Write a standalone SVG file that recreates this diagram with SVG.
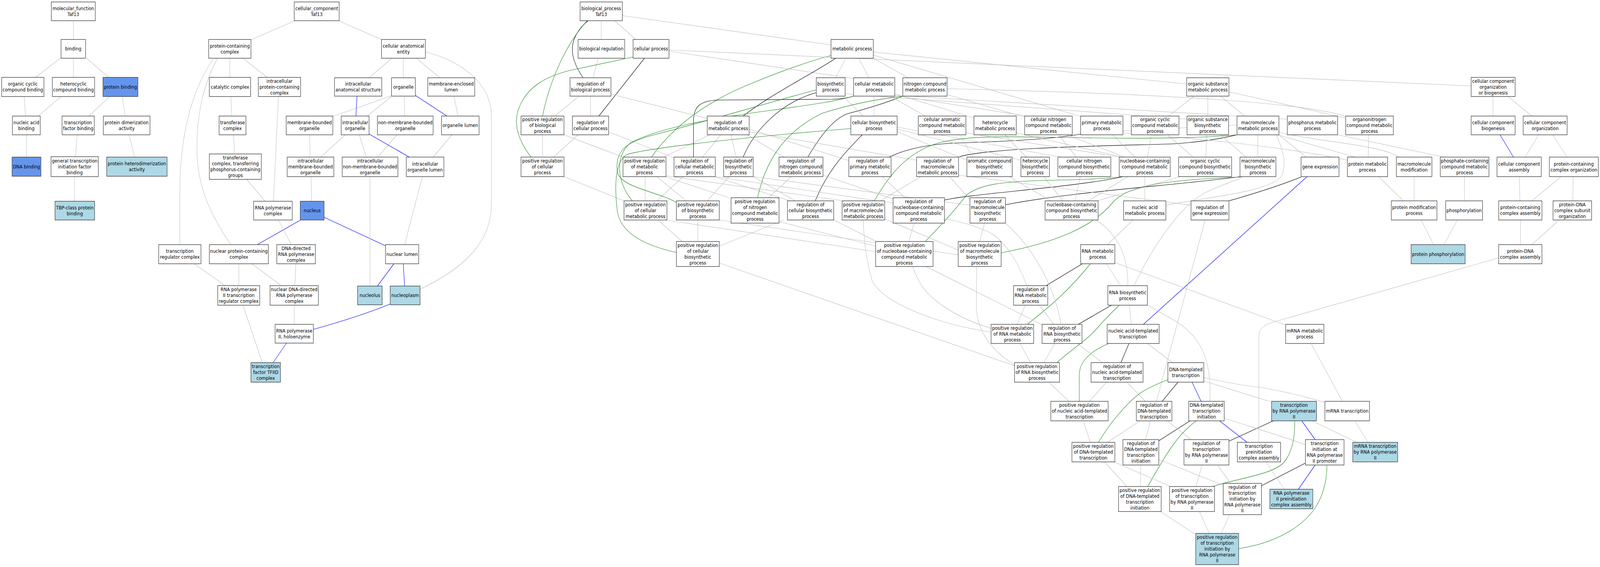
<svg xmlns="http://www.w3.org/2000/svg" width="4769" height="1451" viewBox="0 0 4769 1451" preserveAspectRatio="none">
<defs>
<style>
:root{width:100vw;height:100vh}
.nd rect{fill:#ffffff;stroke:#333333;stroke-width:1.3}
.lb rect{fill:#add8e6}
.cb rect{fill:#6495ed}
text{font-family:"DejaVu Sans","Liberation Sans",sans-serif;font-size:13px;text-anchor:middle;fill:#000000}
path{fill:none;stroke-width:1.2}
.g{stroke:#c0c0c0;marker-end:url(#mg)}
.b{stroke:#0000ff;marker-end:url(#mb)}
.k{stroke:#000000;marker-end:url(#mk)}
.n{stroke:#228b22;marker-end:url(#mn)}
</style>
<marker id="mg" viewBox="0 0 10 7" refX="10" refY="3.5" markerWidth="10" markerHeight="7" markerUnits="userSpaceOnUse" orient="auto"><path d="M0,0L10,3.5L0,7z" fill="#c0c0c0" stroke="none"/></marker>
<marker id="mb" viewBox="0 0 10 7" refX="10" refY="3.5" markerWidth="10" markerHeight="7" markerUnits="userSpaceOnUse" orient="auto"><path d="M0,0L10,3.5L0,7z" fill="#0000ff" stroke="none"/></marker>
<marker id="mk" viewBox="0 0 10 7" refX="10" refY="3.5" markerWidth="10" markerHeight="7" markerUnits="userSpaceOnUse" orient="auto"><path d="M0,0L10,3.5L0,7z" fill="#000000" stroke="none"/></marker>
<marker id="mn" viewBox="0 0 10 7" refX="10" refY="3.5" markerWidth="10" markerHeight="7" markerUnits="userSpaceOnUse" orient="auto"><path d="M0,0L10,3.5L0,7z" fill="#228b22" stroke="none"/></marker>
</defs>
<rect x="0" y="0" width="4769" height="1451" fill="#ffffff"/>
<g id="edges">
<path class="g" d="M219,101 L219,53"/>
<path class="g" d="M106,198 L180,149"/>
<path class="g" d="M219,198 L219,149"/>
<path class="g" d="M324,198 L258,149"/>
<path class="g" d="M76,297 L72,247"/>
<path class="g" d="M114,297 L182,247"/>
<path class="g" d="M265,297 L327,247"/>
<path class="g" d="M373,297 L364,247"/>
<path class="g" d="M79,402 L79,345"/>
<path class="g" d="M225,401 L230,345"/>
<path class="g" d="M401,402 L385,345"/>
<path class="g" d="M222,515 L222,452"/>
<path class="g" d="M750,101 L879,53"/>
<path class="g" d="M1137,101 L1011,54"/>
<path class="g" d="M685,198 L685,149"/>
<path class="g" d="M796,198 L724,149"/>
<path class="g" d="M691,297 L688,247"/>
<path class="g" d="M699,394 L696,345"/>
<path class="g" d="M790,515 L735,459"/>
<path class="g" d="M815,515 L830,247"/>
<path class="g" d="M536,626 L536,490 C536,330 580,220 636,150"/>
<path class="g" d="M688,626 C620,540 587,470 587,380 C587,280 610,210 648,150"/>
<path class="b" d="M767,626 L896,563"/>
<path class="g" d="M868,626 L830,563"/>
<path class="g" d="M671,731 L579,675"/>
<path class="g" d="M712,731 L712,675"/>
<path class="g" d="M838,731 L751,675"/>
<path class="g" d="M879,731 L882,675"/>
<path class="g" d="M877,830 L877,781"/>
<path class="b" d="M934,843 C1030,820 1100,800 1163,778"/>
<path class="g" d="M782,928 L724,781"/>
<path class="b" d="M814,928 L854,878"/>
<path class="g" d="M1100,199 L1168,149"/>
<path class="g" d="M1202,199 L1202,149"/>
<path class="g" d="M1311,199 L1241,149"/>
<path class="g" d="M992,298 L1167,245"/>
<path class="g" d="M1094,297 L1167,247"/>
<path class="b" d="M1061,297 L1064,246"/>
<path class="g" d="M1206,297 L1205,246"/>
<path class="g" d="M1365,297 L1353,246"/>
<path class="b" d="M1332,297 L1238,244"/>
<path class="g" d="M924,402 L923,345"/>
<path class="g" d="M956,402 L1029,345"/>
<path class="g" d="M1092,402 L1071,345"/>
<path class="g" d="M1126,402 L1183,345"/>
<path class="g" d="M1291,402 L1347,345"/>
<path class="b" d="M1220,402 L1100,343"/>
<path class="g" d="M929,515 L927,452"/>
<path class="g" d="M1206,626 L1259,452"/>
<path class="b" d="M1149,629 L966,556"/>
<path class="g" d="M1103,732 L1103,452"/>
<path class="b" d="M1125,732 L1174,675"/>
<path class="b" d="M1206,732 L1202,675"/>
<path class="g" d="M1252,740 C1400,680 1465,610 1465,520 L1465,300 C1465,200 1350,150 1268,133"/>
<path class="g" d="M1792,101 L1792,53"/>
<path class="g" d="M1895,101 L1832,53"/>
<path class="g" d="M2477,115 L1855,40"/>
<path class="g" d="M1768,199 L1783,149"/>
<path class="k" d="M1738,199 C1715,170 1700,140 1708,110 C1715,85 1735,65 1753,53"/>
<path class="g" d="M1653,297 L1726,246"/>
<path class="n" d="M1617,297 C1640,200 1690,110 1750,53"/>
<path class="g" d="M1760,297 L1760,246"/>
<path class="k" d="M1785,297 L1921,149"/>
<path class="g" d="M1617,402 L1617,345"/>
<path class="g" d="M1650,402 L1723,345"/>
<path class="n" d="M1583,402 C1545,360 1530,320 1545,280 C1570,220 1630,195 1700,180 C1780,165 1840,155 1887,146"/>
<path class="g" d="M1857,402 L1681,345"/>
<path class="g" d="M1979,402 L2115,345"/>
<path class="n" d="M1942,402 C2000,330 2100,260 2250,210 C2350,175 2420,155 2477,142"/>
<path class="g" d="M2009,404 L1814,337"/>
<path class="g" d="M2094,402 L2148,345"/>
<path class="k" d="M2067,402 L2067,310 C2067,270 2090,258 2140,256 L2480,254 C2510,253 2530,250 2544,246"/>
<path class="g" d="M2544,201 L1994,131"/>
<path class="g" d="M2590,199 L2560,149"/>
<path class="g" d="M2491,199 L2521,149"/>
<path class="g" d="M2706,199 L2603,149"/>
<path class="g" d="M3537,215 L2603,133"/>
<path class="g" d="M3221,298 L2603,141"/>
<path class="g" d="M3837,305 L2667,244"/>
<path class="g" d="M4385,220 L1994,128"/>
<path class="g" d="M2108,303 L1821,241"/>
<path class="k" d="M2215,297 C2300,240 2420,190 2491,149"/>
<path class="g" d="M1860,514 L1681,452"/>
<path class="g" d="M1923,514 L1923,452"/>
<path class="g" d="M1958,514 L2036,452"/>
<path class="n" d="M1885,514 C1840,470 1830,400 1880,365 C1960,330 2100,305 2300,282 C2420,268 2500,258 2544,246"/>
<path class="g" d="M2194,402 L2179,345"/>
<path class="k" d="M2215,402 C2250,330 2330,262 2433,237"/>
<path class="g" d="M2336,402 L2227,345"/>
<path class="k" d="M2408,402 C2450,340 2490,300 2530,290 C2600,275 2650,260 2691,246"/>
<path class="g" d="M2530,411 L2233,330"/>
<path class="k" d="M2651,402 C2700,380 2780,368 2850,366 C3000,362 3150,355 3221,343"/>
<path class="g" d="M2732,410 L2233,337"/>
<path class="k" d="M2857,402 C2950,375 3400,372 3500,368 C3600,362 3650,352 3687,345"/>
<path class="g" d="M2605,297 L2605,246"/>
<path class="g" d="M2573,297 L2512,246"/>
<path class="g" d="M2758,297 L2654,246"/>
<path class="g" d="M2903,302 L2667,240"/>
<path class="g" d="M3054,300 L2823,242"/>
<path class="g" d="M3060,297 L2667,244"/>
<path class="g" d="M3483,297 L3559,246"/>
<path class="g" d="M3600,297 L3600,246"/>
<path class="g" d="M3538,305 L2519,240"/>
<path class="g" d="M3710,297 L3638,246"/>
<path class="g" d="M3687,320 L3347,335"/>
<path class="g" d="M4011,298 C3900,265 3500,240 2823,227"/>
<path class="g" d="M4011,302 L3663,235"/>
<path class="g" d="M4450,297 L4450,247"/>
<path class="g" d="M4566,297 L4495,247"/>
<path class="g" d="M2900,402 L2860,345"/>
<path class="g" d="M2882,410 L2674,337"/>
<path class="g" d="M3059,402 L2995,345"/>
<path class="g" d="M3043,410 L2674,330"/>
<path class="g" d="M3208,402 L3156,345"/>
<path class="g" d="M3160,402 L2674,325"/>
<path class="g" d="M3340,402 L2879,340"/>
<path class="g" d="M3345,402 L3029,340"/>
<path class="g" d="M3352,402 L3180,345"/>
<path class="g" d="M3420,402 L3432,345"/>
<path class="g" d="M3383,402 L3317,345"/>
<path class="g" d="M3556,402 L3480,345"/>
<path class="g" d="M3594,402 L3597,345"/>
<path class="g" d="M3749,402 L3749,345"/>
<path class="g" d="M3714,402 L3638,345"/>
<path class="g" d="M3893,402 L3812,345"/>
<path class="g" d="M4038,402 L3808,345"/>
<path class="g" d="M4078,402 L4080,345"/>
<path class="g" d="M4016,410 C3800,370 3500,350 3347,340"/>
<path class="g" d="M4169,402 C4120,370 3900,360 3812,338"/>
<path class="g" d="M4304,402 L3987,345"/>
<path class="b" d="M4511,402 L4471,345"/>
<path class="g" d="M4546,402 L4586,345"/>
<path class="g" d="M4671,402 L4628,345"/>
<path class="g" d="M2355,514 L2130,452"/>
<path class="g" d="M2370,514 L2245,452"/>
<path class="k" d="M2430,514 C2470,430 2530,380 2570,345"/>
<path class="g" d="M2045,514 L1958,452"/>
<path class="g" d="M2108,514 L2173,452"/>
<path class="n" d="M2016,518 C1960,490 1850,480 1840,440 C1830,380 1880,360 1950,345 C2150,300 2300,260 2433,230"/>
<path class="g" d="M2173,506 L1982,452"/>
<path class="g" d="M2291,506 L2358,452"/>
<path class="n" d="M2258,506 C2280,420 2330,340 2450,290 C2560,260 2640,252 2691,246"/>
<path class="g" d="M2515,514 L1985,450"/>
<path class="g" d="M2624,514 L2745,452"/>
<path class="n" d="M2606,514 C2650,450 2700,390 2800,365 C2900,345 3000,350 3200,352 C3450,356 3600,352 3687,345"/>
<path class="g" d="M2662,520 L2132,452"/>
<path class="g" d="M2664,510 L2453,448"/>
<path class="g" d="M2697,506 L2630,452"/>
<path class="k" d="M2815,512 C2900,495 3200,480 3348,452"/>
<path class="g" d="M2891,510 L2830,452"/>
<path class="g" d="M2891,525 L2245,452"/>
<path class="k" d="M2997,524 C3200,490 3500,475 3698,452"/>
<path class="g" d="M3244,514 L3362,452"/>
<path class="g" d="M3168,514 L3111,452"/>
<path class="g" d="M3132,514 L3008,452"/>
<path class="g" d="M3204,514 L3220,452"/>
<path class="g" d="M3271,514 L3517,452"/>
<path class="g" d="M3412,514 L3412,452"/>
<path class="g" d="M3475,525 C3600,505 3790,490 3820,450 C3840,410 3815,370 3805,345"/>
<path class="g" d="M3550,525 L2857,448"/>
<path class="k" d="M3663,514 C3720,500 3800,480 3878,453"/>
<path class="g" d="M4183,514 L4109,452"/>
<path class="g" d="M4215,514 L4215,452"/>
<path class="g" d="M4365,514 L4365,452"/>
<path class="g" d="M4530,514 L4529,452"/>
<path class="g" d="M4566,514 L4653,452"/>
<path class="g" d="M4688,514 L4689,452"/>
<path class="g" d="M2033,618 L1961,563"/>
<path class="g" d="M2080,618 L2080,563"/>
<path class="g" d="M2144,630 L2336,563"/>
<path class="n" d="M2016,646 C1930,630 1850,600 1840,540 C1830,470 1835,410 1870,395 C1950,375 2300,345 2536,329"/>
<path class="g" d="M2709,618 L2724,571"/>
<path class="g" d="M2610,644 L1985,563"/>
<path class="g" d="M2610,630 L2322,567"/>
<path class="n" d="M2758,618 C2800,580 2840,545 2880,500 C2920,470 3000,465 3100,462 C3200,460 3300,458 3347,452"/>
<path class="g" d="M2920,618 L2935,571"/>
<path class="g" d="M2856,640 L2637,560"/>
<path class="g" d="M2856,652 L2144,563"/>
<path class="n" d="M2984,647 C3150,620 3260,580 3320,515 C3370,470 3500,460 3698,453"/>
<path class="g" d="M3301,626 L3377,563"/>
<path class="g" d="M4273,626 L4236,563"/>
<path class="g" d="M4304,626 L4344,563"/>
<path class="g" d="M4532,626 L4532,563"/>
<path class="g" d="M4566,626 L4647,563"/>
<path class="g" d="M3060,731 C3040,680 3000,620 2950,595 C2900,575 2850,565 2815,560"/>
<path class="k" d="M3118,731 L3226,675"/>
<path class="g" d="M3340,731 L3298,675"/>
<path class="g" d="M3362,731 C3362,650 3330,600 3268,563"/>
<path class="g" d="M3380,731 C3430,640 3520,520 3600,490 C3650,470 3690,460 3705,452"/>
<path class="g" d="M3032,830 L3056,781"/>
<path class="g" d="M2954,850 C2800,830 2640,780 2600,720 C2580,660 2575,610 2573,563"/>
<path class="g" d="M2954,840 C2850,815 2760,760 2740,720 C2730,705 2725,695 2720,682"/>
<path class="n" d="M3062,830 C3120,790 3180,750 3250,675"/>
<path class="g" d="M3141,830 L3098,781"/>
<path class="g" d="M3162,830 C3150,760 3100,650 2997,571"/>
<path class="g" d="M3108,832 L2485,563"/>
<path class="k" d="M3214,830 L3313,781"/>
<path class="g" d="M3372,830 L3366,781"/>
<path class="b" d="M3408,830 L3896,452"/>
<path class="g" d="M3832,832 L3323,672"/>
<path class="g" d="M3071,928 L3041,879"/>
<path class="g" d="M3111,928 L3144,879"/>
<path class="g" d="M3026,935 C2960,900 2910,850 2910,780 L2911,682"/>
<path class="g" d="M3024,936 L2144,673"/>
<path class="n" d="M3150,928 C3200,890 3240,870 3270,840 C3300,810 3320,795 3336,781"/>
<path class="g" d="M3286,928 L3211,879"/>
<path class="k" d="M3341,928 L3365,879"/>
<path class="g" d="M3495,928 L3420,879"/>
<path class="g" d="M3186,1027 L3126,978"/>
<path class="g" d="M3247,1027 L3298,978"/>
<path class="n" d="M3217,1027 L3217,960 C3217,920 3260,895 3305,879"/>
<path class="g" d="M3414,1027 L3359,978"/>
<path class="k" d="M3464,1027 L3511,978"/>
<path class="g" d="M3447,1027 L3592,563"/>
<path class="b" d="M3580,1027 L3553,978"/>
<path class="g" d="M3606,1027 C3610,950 3600,870 3500,820 C3460,800 3440,790 3420,781"/>
<path class="g" d="M3783,1027 L3588,975"/>
<path class="g" d="M3949,1030 C3880,1012 3800,995 3700,985 C3650,978 3610,970 3588,966"/>
<path class="g" d="M4001,1027 L3908,879"/>
<path class="g" d="M3301,1132 L3398,1077"/>
<path class="g" d="M3250,1132 L3229,1077"/>
<path class="n" d="M3274,1132 C3310,1080 3360,1030 3400,1005 C3430,990 3460,978 3481,972"/>
<path class="g" d="M3414,1125 L3429,1077"/>
<path class="k" d="M3454,1128 L3547,1077"/>
<path class="g" d="M3550,1125 L3480,1077"/>
<path class="k" d="M3663,1129 L3795,1077"/>
<path class="b" d="M3717,1132 L3635,1077"/>
<path class="g" d="M3752,1132 L3752,860 C3752,840 3770,830 3800,823 L4467,660"/>
<path class="b" d="M3920,1125 L3880,1077"/>
<path class="g" d="M3891,1138 C3800,1110 3700,1085 3649,1070"/>
<path class="g" d="M4078,1132 L4038,1077"/>
<path class="g" d="M4044,1132 L3911,1077"/>
<path class="g" d="M3359,1245 L3292,1182"/>
<path class="g" d="M3399,1245 L3400,1190"/>
<path class="n" d="M3421,1245 C3470,1170 3510,1110 3566,1077"/>
<path class="g" d="M3489,1245 L3320,1182"/>
<path class="g" d="M3565,1245 L3583,1190"/>
<path class="n" d="M3615,1245 C3680,1225 3800,1215 3830,1180 C3855,1150 3860,1110 3859,1077"/>
<path class="g" d="M3646,1242 L3454,1176"/>
<path class="g" d="M3668,1237 L3629,1190"/>
<path class="k" d="M3760,1243 L3891,1185"/>
<path class="b" d="M3870,1252 L3920,1190"/>
<path class="g" d="M3828,1252 L3774,1182"/>
<path class="g" d="M3562,1367 L3459,1309"/>
<path class="g" d="M3604,1365 L3575,1309"/>
<path class="g" d="M3640,1365 L3665,1317"/>
<path class="n" d="M3692,1404 C3800,1390 3880,1350 3920,1300 C3950,1260 3955,1220 3955,1190"/>
</g>
<g id="nodes">
<g id="mf" class="nd"><rect x="153" y="5" width="131" height="48"/><text x="218.5" y="26"><tspan x="218.5">molecular_function</tspan><tspan x="218.5" dy="15">Taf13</tspan></text></g>
<g id="binding" class="nd"><rect x="182" y="101" width="73" height="48"/><text x="218.5" y="129.5">binding</text></g>
<g id="ocb" class="nd"><rect x="5" y="198" width="126" height="49"/><text x="68" y="219.5"><tspan x="68">organic cyclic</tspan><tspan x="68" dy="15">compound binding</tspan></text></g>
<g id="hcb" class="nd"><rect x="156" y="198" width="126" height="49"/><text x="219" y="219.5"><tspan x="219">heterocyclic</tspan><tspan x="219" dy="15">compound binding</tspan></text></g>
<g id="pb" class="nd cb"><rect x="307" y="198" width="104" height="49"/><text x="359" y="227">protein binding</text></g>
<g id="nab" class="nd"><rect x="37" y="297" width="83" height="48"/><text x="78.5" y="318"><tspan x="78.5">nucleic acid</tspan><tspan x="78.5" dy="15">binding</tspan></text></g>
<g id="tfb" class="nd"><rect x="185" y="297" width="96" height="48"/><text x="233" y="318"><tspan x="233">transcription</tspan><tspan x="233" dy="15">factor binding</tspan></text></g>
<g id="pda" class="nd"><rect x="308" y="297" width="139" height="48"/><text x="377.5" y="318"><tspan x="377.5">protein dimerization</tspan><tspan x="377.5" dy="15">activity</tspan></text></g>
<g id="dnab" class="nd cb"><rect x="36" y="402" width="86" height="49"/><text x="79" y="431">DNA binding</text></g>
<g id="gtifb" class="nd"><rect x="152" y="401" width="141" height="51"/><text x="222.5" y="416"><tspan x="222.5">general transcription</tspan><tspan x="222.5" dy="15">initiation factor</tspan><tspan x="222.5" dy="15">binding</tspan></text></g>
<g id="pha" class="nd lb"><rect x="318" y="402" width="180" height="49"/><text x="408" y="423.5"><tspan x="408">protein heterodimerization</tspan><tspan x="408" dy="15">activity</tspan></text></g>
<g id="tbp" class="nd lb"><rect x="164" y="515" width="118" height="48"/><text x="223" y="536"><tspan x="223">TBP-class protein</tspan><tspan x="223" dy="15">binding</tspan></text></g>
<g id="cc" class="nd"><rect x="877" y="5" width="134" height="48"/><text x="944" y="26"><tspan x="944">cellular_component</tspan><tspan x="944" dy="15">Taf13</tspan></text></g>
<g id="pcc" class="nd"><rect x="622" y="101" width="126" height="48"/><text x="685" y="122"><tspan x="685">protein-containing</tspan><tspan x="685" dy="15">complex</tspan></text></g>
<g id="cae" class="nd"><rect x="1137" y="101" width="131" height="48"/><text x="1202.5" y="122"><tspan x="1202.5">cellular anatomical</tspan><tspan x="1202.5" dy="15">entity</tspan></text></g>
<g id="catc" class="nd"><rect x="624" y="198" width="123" height="49"/><text x="685.5" y="227">catalytic complex</text></g>
<g id="ipcc" class="nd"><rect x="770" y="198" width="126" height="49"/><text x="833" y="212"><tspan x="833">intracellular</tspan><tspan x="833" dy="15">protein-containing</tspan><tspan x="833" dy="15">complex</tspan></text></g>
<g id="ias" class="nd"><rect x="997" y="199" width="141" height="47"/><text x="1067.5" y="219.5"><tspan x="1067.5">intracellular</tspan><tspan x="1067.5" dy="15">anatomical structure</tspan></text></g>
<g id="org" class="nd"><rect x="1167" y="199" width="71" height="47"/><text x="1202.5" y="227">organelle</text></g>
<g id="mel" class="nd"><rect x="1275" y="199" width="140" height="47"/><text x="1345" y="219.5"><tspan x="1345">membrane-enclosed</tspan><tspan x="1345" dy="15">lumen</tspan></text></g>
<g id="tc" class="nd"><rect x="653" y="297" width="80" height="48"/><text x="693" y="318"><tspan x="693">transferase</tspan><tspan x="693" dy="15">complex</tspan></text></g>
<g id="mbo" class="nd"><rect x="853" y="297" width="139" height="48"/><text x="922.5" y="318"><tspan x="922.5">membrane-bounded</tspan><tspan x="922.5" dy="15">organelle</tspan></text></g>
<g id="io" class="nd"><rect x="1017" y="297" width="83" height="48"/><text x="1058.5" y="318"><tspan x="1058.5">intracellular</tspan><tspan x="1058.5" dy="15">organelle</tspan></text></g>
<g id="nmbo" class="nd"><rect x="1125" y="297" width="166" height="48"/><text x="1208" y="318"><tspan x="1208">non-membrane-bounded</tspan><tspan x="1208" dy="15">organelle</tspan></text></g>
<g id="ol" class="nd"><rect x="1316" y="297" width="112" height="48"/><text x="1372" y="325.5">organelle lumen</text></g>
<g id="tctp" class="nd"><rect x="624" y="394" width="155" height="65"/><text x="701.5" y="408.5"><tspan x="701.5">transferase</tspan><tspan x="701.5" dy="15">complex, transferring</tspan><tspan x="701.5" dy="15">phosphorus-containing</tspan><tspan x="701.5" dy="15">groups</tspan></text></g>
<g id="imbo" class="nd"><rect x="856" y="402" width="139" height="50"/><text x="925.5" y="416.5"><tspan x="925.5">intracellular</tspan><tspan x="925.5" dy="15">membrane-bounded</tspan><tspan x="925.5" dy="15">organelle</tspan></text></g>
<g id="inmbo" class="nd"><rect x="1020" y="402" width="166" height="50"/><text x="1103" y="416.5"><tspan x="1103">intracellular</tspan><tspan x="1103" dy="15">non-membrane-bounded</tspan><tspan x="1103" dy="15">organelle</tspan></text></g>
<g id="iol" class="nd"><rect x="1211" y="402" width="112" height="50"/><text x="1267" y="424"><tspan x="1267">intracellular</tspan><tspan x="1267" dy="15">organelle lumen</tspan></text></g>
<g id="rpc" class="nd"><rect x="756" y="515" width="115" height="48"/><text x="813.5" y="536"><tspan x="813.5">RNA polymerase</tspan><tspan x="813.5" dy="15">complex</tspan></text></g>
<g id="nucleus" class="nd cb"><rect x="895" y="515" width="71" height="48"/><text x="930.5" y="543.5">nucleus</text></g>
<g id="trc" class="nd"><rect x="473" y="626" width="126" height="49"/><text x="536" y="647.5"><tspan x="536">transcription</tspan><tspan x="536" dy="15">regulator complex</tspan></text></g>
<g id="npcc" class="nd"><rect x="624" y="626" width="176" height="49"/><text x="712" y="647.5"><tspan x="712">nuclear protein-containing</tspan><tspan x="712" dy="15">complex</tspan></text></g>
<g id="ddrpc" class="nd"><rect x="825" y="626" width="115" height="49"/><text x="882.5" y="640"><tspan x="882.5">DNA-directed</tspan><tspan x="882.5" dy="15">RNA polymerase</tspan><tspan x="882.5" dy="15">complex</tspan></text></g>
<g id="nl" class="nd"><rect x="1149" y="626" width="99" height="49"/><text x="1198.5" y="655">nuclear lumen</text></g>
<g id="rp2trc" class="nd"><rect x="649" y="731" width="125" height="50"/><text x="711.5" y="745.5"><tspan x="711.5">RNA polymerase</tspan><tspan x="711.5" dy="15">II transcription</tspan><tspan x="711.5" dy="15">regulator complex</tspan></text></g>
<g id="nddrpc" class="nd"><rect x="805" y="731" width="144" height="50"/><text x="877" y="745.5"><tspan x="877">nuclear DNA-directed</tspan><tspan x="877" dy="15">RNA polymerase</tspan><tspan x="877" dy="15">complex</tspan></text></g>
<g id="nucleolus" class="nd lb"><rect x="1066" y="732" width="73" height="48"/><text x="1102.5" y="760.5">nucleolus</text></g>
<g id="nucleoplasm" class="nd lb"><rect x="1163" y="732" width="89" height="48"/><text x="1207.5" y="760.5">nucleoplasm</text></g>
<g id="holo" class="nd"><rect x="820" y="830" width="114" height="48"/><text x="877" y="851"><tspan x="877">RNA polymerase</tspan><tspan x="877" dy="15">II, holoenzyme</tspan></text></g>
<g id="tfiid" class="nd lb"><rect x="748" y="928" width="88" height="50"/><text x="792" y="942.5"><tspan x="792">transcription</tspan><tspan x="792" dy="15">factor TFIID</tspan><tspan x="792" dy="15">complex</tspan></text></g>
<g id="bp" class="nd"><rect x="1729" y="5" width="126" height="48"/><text x="1792" y="26"><tspan x="1792">biological_process</tspan><tspan x="1792" dy="15">Taf13</tspan></text></g>
<g id="breg" class="nd"><rect x="1723" y="101" width="139" height="48"/><text x="1792.5" y="129.5">biological regulation</text></g>
<g id="cp" class="nd"><rect x="1887" y="101" width="107" height="48"/><text x="1940.5" y="129.5">cellular process</text></g>
<g id="mp" class="nd"><rect x="2477" y="101" width="126" height="48"/><text x="2540" y="129.5">metabolic process</text></g>
<g id="rbp" class="nd"><rect x="1699" y="199" width="122" height="47"/><text x="1760" y="219.5"><tspan x="1760">regulation of</tspan><tspan x="1760" dy="15">biological process</tspan></text></g>
<g id="bsp" class="nd"><rect x="2433" y="199" width="86" height="47"/><text x="2476" y="219.5"><tspan x="2476">biosynthetic</tspan><tspan x="2476" dy="15">process</tspan></text></g>
<g id="cmp" class="nd"><rect x="2544" y="199" width="123" height="47"/><text x="2605.5" y="219.5"><tspan x="2605.5">cellular metabolic</tspan><tspan x="2605.5" dy="15">process</tspan></text></g>
<g id="ncmp" class="nd"><rect x="2691" y="199" width="132" height="47"/><text x="2757" y="219.5"><tspan x="2757">nitrogen compound</tspan><tspan x="2757" dy="15">metabolic process</tspan></text></g>
<g id="osmp" class="nd"><rect x="3537" y="199" width="126" height="47"/><text x="3600" y="219.5"><tspan x="3600">organic substance</tspan><tspan x="3600" dy="15">metabolic process</tspan></text></g>
<g id="ccob" class="nd"><rect x="4385" y="198" width="131" height="49"/><text x="4450.5" y="212"><tspan x="4450.5">cellular component</tspan><tspan x="4450.5" dy="15">organization</tspan><tspan x="4450.5" dy="15">or biogenesis</tspan></text></g>
<g id="prbp" class="nd"><rect x="1553" y="297" width="128" height="48"/><text x="1617" y="310.5"><tspan x="1617">positive regulation</tspan><tspan x="1617" dy="15">of biological</tspan><tspan x="1617" dy="15">process</tspan></text></g>
<g id="rcp" class="nd"><rect x="1706" y="297" width="108" height="48"/><text x="1760" y="318"><tspan x="1760">regulation of</tspan><tspan x="1760" dy="15">cellular process</tspan></text></g>
<g id="rmp" class="nd"><rect x="2108" y="297" width="125" height="48"/><text x="2170.5" y="318"><tspan x="2170.5">regulation of</tspan><tspan x="2170.5" dy="15">metabolic process</tspan></text></g>
<g id="cbp" class="nd"><rect x="2536" y="297" width="138" height="48"/><text x="2605" y="318"><tspan x="2605">cellular biosynthetic</tspan><tspan x="2605" dy="15">process</tspan></text></g>
<g id="cacmp" class="nd"><rect x="2737" y="297" width="142" height="48"/><text x="2808" y="310.5"><tspan x="2808">cellular aromatic</tspan><tspan x="2808" dy="15">compound metabolic</tspan><tspan x="2808" dy="15">process</tspan></text></g>
<g id="hmp" class="nd"><rect x="2903" y="297" width="126" height="48"/><text x="2966" y="318"><tspan x="2966">heterocycle</tspan><tspan x="2966" dy="15">metabolic process</tspan></text></g>
<g id="cncmp" class="nd"><rect x="3054" y="297" width="142" height="48"/><text x="3125" y="310.5"><tspan x="3125">cellular nitrogen</tspan><tspan x="3125" dy="15">compound metabolic</tspan><tspan x="3125" dy="15">process</tspan></text></g>
<g id="pmp" class="nd"><rect x="3221" y="297" width="126" height="48"/><text x="3284" y="318"><tspan x="3284">primary metabolic</tspan><tspan x="3284" dy="15">process</tspan></text></g>
<g id="occmp" class="nd"><rect x="3372" y="297" width="142" height="48"/><text x="3443" y="310.5"><tspan x="3443">organic cyclic</tspan><tspan x="3443" dy="15">compound metabolic</tspan><tspan x="3443" dy="15">process</tspan></text></g>
<g id="osbp" class="nd"><rect x="3538" y="297" width="124" height="48"/><text x="3600" y="310.5"><tspan x="3600">organic substance</tspan><tspan x="3600" dy="15">biosynthetic</tspan><tspan x="3600" dy="15">process</tspan></text></g>
<g id="mmp" class="nd"><rect x="3687" y="297" width="125" height="48"/><text x="3749.5" y="318"><tspan x="3749.5">macromolecule</tspan><tspan x="3749.5" dy="15">metabolic process</tspan></text></g>
<g id="phmp" class="nd"><rect x="3837" y="297" width="150" height="48"/><text x="3912" y="318"><tspan x="3912">phosphorus metabolic</tspan><tspan x="3912" dy="15">process</tspan></text></g>
<g id="oncmp" class="nd"><rect x="4011" y="297" width="142" height="48"/><text x="4082" y="310.5"><tspan x="4082">organonitrogen</tspan><tspan x="4082" dy="15">compound metabolic</tspan><tspan x="4082" dy="15">process</tspan></text></g>
<g id="ccbg" class="nd"><rect x="4385" y="297" width="131" height="48"/><text x="4450.5" y="318"><tspan x="4450.5">cellular component</tspan><tspan x="4450.5" dy="15">biogenesis</tspan></text></g>
<g id="cco" class="nd"><rect x="4540" y="297" width="131" height="48"/><text x="4605.5" y="318"><tspan x="4605.5">cellular component</tspan><tspan x="4605.5" dy="15">organization</tspan></text></g>
<g id="prcp" class="nd"><rect x="1553" y="402" width="128" height="50"/><text x="1617" y="416.5"><tspan x="1617">positive regulation</tspan><tspan x="1617" dy="15">of cellular</tspan><tspan x="1617" dy="15">process</tspan></text></g>
<g id="prmp" class="nd"><rect x="1857" y="402" width="128" height="50"/><text x="1921" y="416.5"><tspan x="1921">positive regulation</tspan><tspan x="1921" dy="15">of metabolic</tspan><tspan x="1921" dy="15">process</tspan></text></g>
<g id="rcmp" class="nd"><rect x="2009" y="402" width="123" height="50"/><text x="2070.5" y="416.5"><tspan x="2070.5">regulation of</tspan><tspan x="2070.5" dy="15">cellular metabolic</tspan><tspan x="2070.5" dy="15">process</tspan></text></g>
<g id="rbsp" class="nd"><rect x="2157" y="402" width="88" height="50"/><text x="2201" y="416.5"><tspan x="2201">regulation of</tspan><tspan x="2201" dy="15">biosynthetic</tspan><tspan x="2201" dy="15">process</tspan></text></g>
<g id="rncmp" class="nd"><rect x="2322" y="402" width="131" height="50"/><text x="2387.5" y="416.5"><tspan x="2387.5">regulation of</tspan><tspan x="2387.5" dy="15">nitrogen compound</tspan><tspan x="2387.5" dy="15">metabolic process</tspan></text></g>
<g id="rpmp" class="nd"><rect x="2530" y="402" width="126" height="50"/><text x="2593" y="416.5"><tspan x="2593">regulation of</tspan><tspan x="2593" dy="15">primary metabolic</tspan><tspan x="2593" dy="15">process</tspan></text></g>
<g id="rmmp" class="nd"><rect x="2732" y="402" width="125" height="50"/><text x="2794.5" y="416.5"><tspan x="2794.5">regulation of</tspan><tspan x="2794.5" dy="15">macromolecule</tspan><tspan x="2794.5" dy="15">metabolic process</tspan></text></g>
<g id="acbp" class="nd"><rect x="2882" y="402" width="135" height="50"/><text x="2949.5" y="416.5"><tspan x="2949.5">aromatic compound</tspan><tspan x="2949.5" dy="15">biosynthetic</tspan><tspan x="2949.5" dy="15">process</tspan></text></g>
<g id="hbp" class="nd"><rect x="3043" y="402" width="85" height="50"/><text x="3085.5" y="416.5"><tspan x="3085.5">heterocycle</tspan><tspan x="3085.5" dy="15">biosynthetic</tspan><tspan x="3085.5" dy="15">process</tspan></text></g>
<g id="cncbp" class="nd"><rect x="3153" y="402" width="158" height="50"/><text x="3232" y="416.5"><tspan x="3232">cellular nitrogen</tspan><tspan x="3232" dy="15">compound biosynthetic</tspan><tspan x="3232" dy="15">process</tspan></text></g>
<g id="nccmp" class="nd"><rect x="3336" y="402" width="152" height="50"/><text x="3412" y="416.5"><tspan x="3412">nucleobase-containing</tspan><tspan x="3412" dy="15">compound metabolic</tspan><tspan x="3412" dy="15">process</tspan></text></g>
<g id="occbp" class="nd"><rect x="3513" y="402" width="158" height="50"/><text x="3592" y="416.5"><tspan x="3592">organic cyclic</tspan><tspan x="3592" dy="15">compound biosynthetic</tspan><tspan x="3592" dy="15">process</tspan></text></g>
<g id="mbp" class="nd"><rect x="3696" y="402" width="107" height="50"/><text x="3749.5" y="416.5"><tspan x="3749.5">macromolecule</tspan><tspan x="3749.5" dy="15">biosynthetic</tspan><tspan x="3749.5" dy="15">process</tspan></text></g>
<g id="ge" class="nd"><rect x="3878" y="402" width="113" height="50"/><text x="3934.5" y="431.5">gene expression</text></g>
<g id="ptmp" class="nd"><rect x="4016" y="402" width="120" height="50"/><text x="4076" y="424"><tspan x="4076">protein metabolic</tspan><tspan x="4076" dy="15">process</tspan></text></g>
<g id="mm" class="nd"><rect x="4162" y="402" width="106" height="50"/><text x="4215" y="424"><tspan x="4215">macromolecule</tspan><tspan x="4215" dy="15">modification</tspan></text></g>
<g id="pccmp" class="nd"><rect x="4293" y="402" width="145" height="50"/><text x="4365.5" y="416.5"><tspan x="4365.5">phosphate-containing</tspan><tspan x="4365.5" dy="15">compound metabolic</tspan><tspan x="4365.5" dy="15">process</tspan></text></g>
<g id="cca" class="nd"><rect x="4462" y="402" width="132" height="50"/><text x="4528" y="424"><tspan x="4528">cellular component</tspan><tspan x="4528" dy="15">assembly</tspan></text></g>
<g id="pcco" class="nd"><rect x="4618" y="402" width="146" height="50"/><text x="4691" y="424"><tspan x="4691">protein-containing</tspan><tspan x="4691" dy="15">complex organization</tspan></text></g>
<g id="prcmp" class="nd"><rect x="1860" y="514" width="128" height="49"/><text x="1924" y="528"><tspan x="1924">positive regulation</tspan><tspan x="1924" dy="15">of cellular</tspan><tspan x="1924" dy="15">metabolic process</tspan></text></g>
<g id="prbsp" class="nd"><rect x="2016" y="514" width="128" height="49"/><text x="2080" y="528"><tspan x="2080">positive regulation</tspan><tspan x="2080" dy="15">of biosynthetic</tspan><tspan x="2080" dy="15">process</tspan></text></g>
<g id="prncmp" class="nd"><rect x="2179" y="506" width="143" height="65"/><text x="2250.5" y="520.5"><tspan x="2250.5">positive regulation</tspan><tspan x="2250.5" dy="15">of nitrogen</tspan><tspan x="2250.5" dy="15">compound metabolic</tspan><tspan x="2250.5" dy="15">process</tspan></text></g>
<g id="rcbp" class="nd"><rect x="2347" y="514" width="138" height="49"/><text x="2416" y="528"><tspan x="2416">regulation of</tspan><tspan x="2416" dy="15">cellular biosynthetic</tspan><tspan x="2416" dy="15">process</tspan></text></g>
<g id="prmmp" class="nd"><rect x="2510" y="514" width="127" height="49"/><text x="2573.5" y="528"><tspan x="2573.5">positive regulation</tspan><tspan x="2573.5" dy="15">of macromolecule</tspan><tspan x="2573.5" dy="15">metabolic process</tspan></text></g>
<g id="rnccmp" class="nd"><rect x="2662" y="506" width="153" height="65"/><text x="2738.5" y="520.5"><tspan x="2738.5">regulation of</tspan><tspan x="2738.5" dy="15">nucleobase-containing</tspan><tspan x="2738.5" dy="15">compound metabolic</tspan><tspan x="2738.5" dy="15">process</tspan></text></g>
<g id="rmbp" class="nd"><rect x="2891" y="506" width="106" height="65"/><text x="2944" y="520.5"><tspan x="2944">regulation of</tspan><tspan x="2944" dy="15">macromolecule</tspan><tspan x="2944" dy="15">biosynthetic</tspan><tspan x="2944" dy="15">process</tspan></text></g>
<g id="nccbp" class="nd"><rect x="3115" y="514" width="158" height="49"/><text x="3194" y="528"><tspan x="3194">nucleobase-containing</tspan><tspan x="3194" dy="15">compound biosynthetic</tspan><tspan x="3194" dy="15">process</tspan></text></g>
<g id="namp" class="nd"><rect x="3349" y="514" width="126" height="49"/><text x="3412" y="535.5"><tspan x="3412">nucleic acid</tspan><tspan x="3412" dy="15">metabolic process</tspan></text></g>
<g id="rge" class="nd"><rect x="3550" y="514" width="113" height="49"/><text x="3606.5" y="535.5"><tspan x="3606.5">regulation of</tspan><tspan x="3606.5" dy="15">gene expression</tspan></text></g>
<g id="pmod" class="nd"><rect x="4147" y="514" width="136" height="49"/><text x="4215" y="535.5"><tspan x="4215">protein modification</tspan><tspan x="4215" dy="15">process</tspan></text></g>
<g id="phos" class="nd"><rect x="4309" y="514" width="110" height="49"/><text x="4364" y="543">phosphorylation</text></g>
<g id="pcca" class="nd"><rect x="4467" y="514" width="129" height="49"/><text x="4531.5" y="535.5"><tspan x="4531.5">protein-containing</tspan><tspan x="4531.5" dy="15">complex assembly</tspan></text></g>
<g id="pdcso" class="nd"><rect x="4629" y="514" width="115" height="49"/><text x="4686.5" y="528"><tspan x="4686.5">protein-DNA</tspan><tspan x="4686.5" dy="15">complex subunit</tspan><tspan x="4686.5" dy="15">organization</tspan></text></g>
<g id="prcbp" class="nd"><rect x="2016" y="618" width="128" height="64"/><text x="2080" y="632"><tspan x="2080">positive regulation</tspan><tspan x="2080" dy="15">of cellular</tspan><tspan x="2080" dy="15">biosynthetic</tspan><tspan x="2080" dy="15">process</tspan></text></g>
<g id="prnccmp" class="nd"><rect x="2610" y="618" width="171" height="64"/><text x="2695.5" y="632"><tspan x="2695.5">positive regulation</tspan><tspan x="2695.5" dy="15">of nucleobase-containing</tspan><tspan x="2695.5" dy="15">compound metabolic</tspan><tspan x="2695.5" dy="15">process</tspan></text></g>
<g id="prmbp" class="nd"><rect x="2856" y="618" width="128" height="64"/><text x="2920" y="632"><tspan x="2920">positive regulation</tspan><tspan x="2920" dy="15">of macromolecule</tspan><tspan x="2920" dy="15">biosynthetic</tspan><tspan x="2920" dy="15">process</tspan></text></g>
<g id="rnamp" class="nd"><rect x="3221" y="626" width="102" height="49"/><text x="3272" y="647.5"><tspan x="3272">RNA metabolic</tspan><tspan x="3272" dy="15">process</tspan></text></g>
<g id="pphos" class="nd lb"><rect x="4206" y="626" width="161" height="49"/><text x="4286.5" y="655">protein phosphorylation</text></g>
<g id="pdca" class="nd"><rect x="4467" y="626" width="129" height="49"/><text x="4531.5" y="647.5"><tspan x="4531.5">protein-DNA</tspan><tspan x="4531.5" dy="15">complex assembly</tspan></text></g>
<g id="rrnamp" class="nd"><rect x="3021" y="731" width="102" height="50"/><text x="3072" y="745.5"><tspan x="3072">regulation of</tspan><tspan x="3072" dy="15">RNA metabolic</tspan><tspan x="3072" dy="15">process</tspan></text></g>
<g id="rnabp" class="nd"><rect x="3302" y="731" width="118" height="50"/><text x="3361" y="753"><tspan x="3361">RNA biosynthetic</tspan><tspan x="3361" dy="15">process</tspan></text></g>
<g id="prrnamp" class="nd"><rect x="2954" y="830" width="127" height="49"/><text x="3017.5" y="844"><tspan x="3017.5">positive regulation</tspan><tspan x="3017.5" dy="15">of RNA metabolic</tspan><tspan x="3017.5" dy="15">process</tspan></text></g>
<g id="rrnabp" class="nd"><rect x="3106" y="830" width="119" height="49"/><text x="3165.5" y="844"><tspan x="3165.5">regulation of</tspan><tspan x="3165.5" dy="15">RNA biosynthetic</tspan><tspan x="3165.5" dy="15">process</tspan></text></g>
<g id="natt" class="nd"><rect x="3300" y="830" width="155" height="49"/><text x="3377.5" y="851.5"><tspan x="3377.5">nucleic acid-templated</tspan><tspan x="3377.5" dy="15">transcription</tspan></text></g>
<g id="mrnamp" class="nd"><rect x="3832" y="830" width="114" height="49"/><text x="3889" y="851.5"><tspan x="3889">mRNA metabolic</tspan><tspan x="3889" dy="15">process</tspan></text></g>
<g id="prrnabp" class="nd"><rect x="3024" y="928" width="134" height="50"/><text x="3091" y="942.5"><tspan x="3091">positive regulation</tspan><tspan x="3091" dy="15">of RNA biosynthetic</tspan><tspan x="3091" dy="15">process</tspan></text></g>
<g id="rnatt" class="nd"><rect x="3252" y="928" width="155" height="50"/><text x="3329.5" y="942.5"><tspan x="3329.5">regulation of</tspan><tspan x="3329.5" dy="15">nucleic acid-templated</tspan><tspan x="3329.5" dy="15">transcription</tspan></text></g>
<g id="dtt" class="nd"><rect x="3481" y="928" width="107" height="50"/><text x="3534.5" y="950"><tspan x="3534.5">DNA-templated</tspan><tspan x="3534.5" dy="15">transcription</tspan></text></g>
<g id="prnatt" class="nd"><rect x="3132" y="1027" width="171" height="50"/><text x="3217.5" y="1041.5"><tspan x="3217.5">positive regulation</tspan><tspan x="3217.5" dy="15">of nucleic acid-templated</tspan><tspan x="3217.5" dy="15">transcription</tspan></text></g>
<g id="rdtt" class="nd"><rect x="3387" y="1027" width="106" height="50"/><text x="3440" y="1041.5"><tspan x="3440">regulation of</tspan><tspan x="3440" dy="15">DNA-templated</tspan><tspan x="3440" dy="15">transcription</tspan></text></g>
<g id="dtti" class="nd"><rect x="3543" y="1027" width="106" height="50"/><text x="3596" y="1041.5"><tspan x="3596">DNA-templated</tspan><tspan x="3596" dy="15">transcription</tspan><tspan x="3596" dy="15">initiation</tspan></text></g>
<g id="trp2" class="nd lb"><rect x="3790" y="1027" width="134" height="50"/><text x="3857" y="1041.5"><tspan x="3857">transcription</tspan><tspan x="3857" dy="15">by RNA polymerase</tspan><tspan x="3857" dy="15">II</tspan></text></g>
<g id="mrnat" class="nd"><rect x="3949" y="1027" width="133" height="50"/><text x="4015.5" y="1056.5">mRNA transcription</text></g>
<g id="prdtt" class="nd"><rect x="3195" y="1132" width="128" height="50"/><text x="3259" y="1146.5"><tspan x="3259">positive regulation</tspan><tspan x="3259" dy="15">of DNA-templated</tspan><tspan x="3259" dy="15">transcription</tspan></text></g>
<g id="rdtti" class="nd"><rect x="3347" y="1125" width="107" height="65"/><text x="3400.5" y="1139.5"><tspan x="3400.5">regulation of</tspan><tspan x="3400.5" dy="15">DNA-templated</tspan><tspan x="3400.5" dy="15">transcription</tspan><tspan x="3400.5" dy="15">initiation</tspan></text></g>
<g id="rtrp2" class="nd"><rect x="3529" y="1125" width="134" height="65"/><text x="3596" y="1139.5"><tspan x="3596">regulation of</tspan><tspan x="3596" dy="15">transcription</tspan><tspan x="3596" dy="15">by RNA polymerase</tspan><tspan x="3596" dy="15">II</tspan></text></g>
<g id="tpca" class="nd"><rect x="3688" y="1132" width="129" height="50"/><text x="3752.5" y="1146.5"><tspan x="3752.5">transcription</tspan><tspan x="3752.5" dy="15">preinitiation</tspan><tspan x="3752.5" dy="15">complex assembly</tspan></text></g>
<g id="tiarp2p" class="nd"><rect x="3891" y="1125" width="115" height="65"/><text x="3948.5" y="1139.5"><tspan x="3948.5">transcription</tspan><tspan x="3948.5" dy="15">initiation at</tspan><tspan x="3948.5" dy="15">RNA polymerase</tspan><tspan x="3948.5" dy="15">II promoter</tspan></text></g>
<g id="mrnatrp2" class="nd lb"><rect x="4032" y="1132" width="134" height="50"/><text x="4099" y="1146.5"><tspan x="4099">mRNA transcription</tspan><tspan x="4099" dy="15">by RNA polymerase</tspan><tspan x="4099" dy="15">II</tspan></text></g>
<g id="prdtti" class="nd"><rect x="3334" y="1245" width="127" height="64"/><text x="3397.5" y="1259"><tspan x="3397.5">positive regulation</tspan><tspan x="3397.5" dy="15">of DNA-templated</tspan><tspan x="3397.5" dy="15">transcription</tspan><tspan x="3397.5" dy="15">initiation</tspan></text></g>
<g id="prtrp2" class="nd"><rect x="3486" y="1245" width="134" height="64"/><text x="3553" y="1259"><tspan x="3553">positive regulation</tspan><tspan x="3553" dy="15">of transcription</tspan><tspan x="3553" dy="15">by RNA polymerase</tspan><tspan x="3553" dy="15">II</tspan></text></g>
<g id="rtirp2" class="nd"><rect x="3646" y="1237" width="114" height="80"/><text x="3703" y="1251.5"><tspan x="3703">regulation of</tspan><tspan x="3703" dy="15">transcription</tspan><tspan x="3703" dy="15">initiation by</tspan><tspan x="3703" dy="15">RNA polymerase</tspan><tspan x="3703" dy="15">II</tspan></text></g>
<g id="rp2pca" class="nd lb"><rect x="3785" y="1252" width="128" height="50"/><text x="3849" y="1266.5"><tspan x="3849">RNA polymerase</tspan><tspan x="3849" dy="15">II preinitiation</tspan><tspan x="3849" dy="15">complex assembly</tspan></text></g>
<g id="prtirp2" class="nd lb"><rect x="3564" y="1365" width="128" height="80"/><text x="3628" y="1379.5"><tspan x="3628">positive regulation</tspan><tspan x="3628" dy="15">of transcription</tspan><tspan x="3628" dy="15">initiation by</tspan><tspan x="3628" dy="15">RNA polymerase</tspan><tspan x="3628" dy="15">II</tspan></text></g>
</g>
</svg>
